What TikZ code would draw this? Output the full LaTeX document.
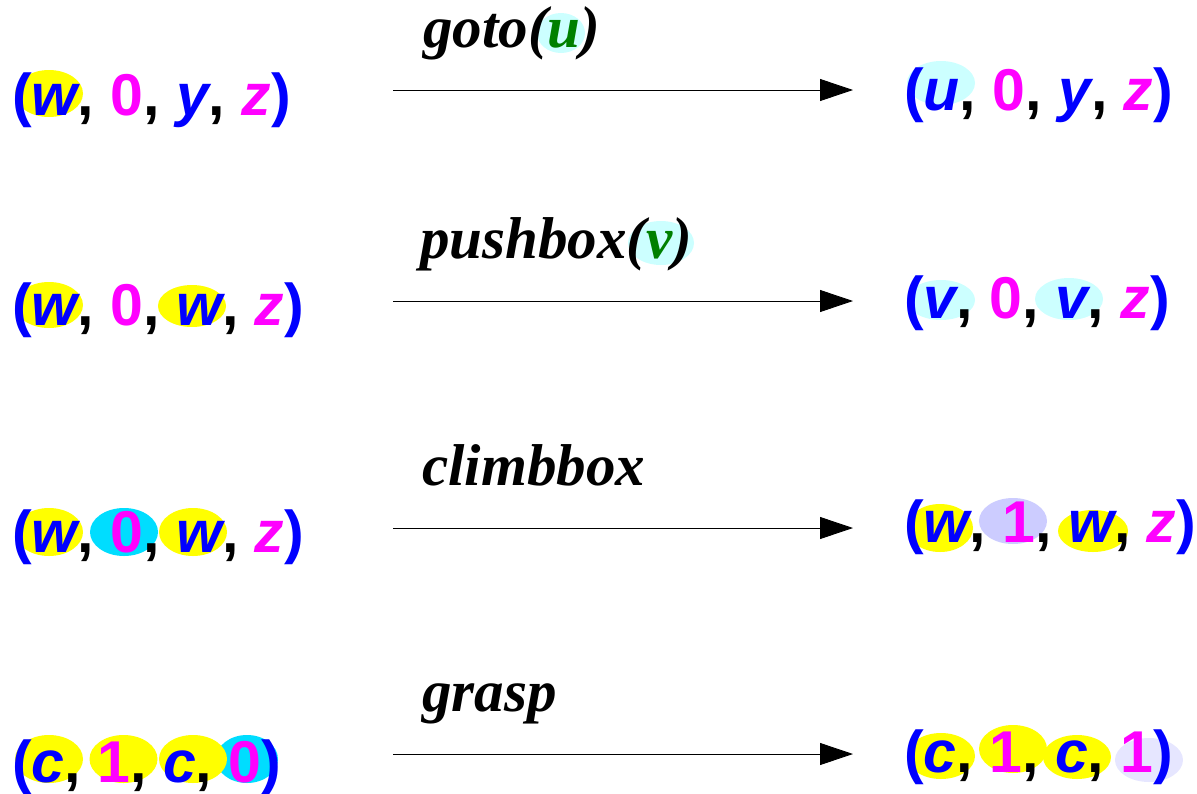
\documentclass[tikz,border=0pt]{standalone}
\usepackage{fontspec}
\setmainfont{Liberation Sans}
\newfontfamily\labfont{Liberation Serif}
\usetikzlibrary{arrows.meta}
\definecolor{tblue}{RGB}{0,0,255}
\definecolor{tmag}{RGB}{255,0,255}
\definecolor{tgreen}{RGB}{0,128,0}
\definecolor{hyellow}{RGB}{255,255,0}
\definecolor{hlcyan}{RGB}{204,255,255}
\definecolor{hcyan}{RGB}{0,221,255}
\definecolor{hlav}{RGB}{204,204,255}
\definecolor{hllav}{RGB}{230,230,255}
\newcommand\tupL{\textcolor{tblue}{(}}
\newcommand\tupR{\textcolor{tblue}{)}}
\newcommand\Vb[1]{\textcolor{tblue}{\itshape #1}}
\newcommand\Vm[1]{\textcolor{tmag}{\itshape #1}}
\newcommand\Dm[1]{\textcolor{tmag}{#1}}
\newcommand\Vg[1]{\textcolor{tgreen}{#1}}
\tikzset{
  tuple/.style={anchor=base west, inner sep=0pt, font=\fontsize{59}{59}\selectfont\bfseries},
  lab/.style={anchor=base west, inner sep=0pt, font=\labfont\fontsize{59}{59}\selectfont\bfseries\itshape},
  act/.style={line width=0.9pt, -{Triangle[length=33pt,width=22pt]}},
  hy/.style={fill=hyellow},
  hlc/.style={fill=hlcyan},
  hc/.style={fill=hcyan},
  hlv/.style={fill=hlav},
  hllv/.style={fill=hllav}
}
\begin{document}
\begin{tikzpicture}[x=1pt,y=-1pt]
\useasboundingbox (0,0) rectangle (1197,793);
% highlights
\fill[hy] (49,93.5) ellipse (34 and 23.5);
\fill[hlc] (941,83) ellipse (34 and 22);
\fill[hlc] (561,33) ellipse (24 and 20);
\fill[hy] (49,305) ellipse (34 and 23);
\fill[hy] (192,306) ellipse (34 and 21);
\fill[hlc] (941,300) ellipse (34 and 20);
\fill[hlc] (1069,299) ellipse (34 and 21);
\fill[hlc] (661,243) ellipse (33 and 22);
\fill[hy] (49,532) ellipse (34 and 24);
\fill[hc] (124,532) ellipse (34 and 24);
\fill[hy] (193,532) ellipse (34 and 24);
\fill[hy] (940,528) ellipse (33 and 24);
\fill[hlv] (1013,521) ellipse (34 and 23);
\fill[hy] (1093,531) ellipse (35 and 21);
\fill[hc] (247,759) ellipse (31 and 24);
\fill[hy] (49,759) ellipse (34 and 24);
\fill[hy] (123.5,759) ellipse (34 and 24);
\fill[hy] (193,759) ellipse (34 and 24);
\fill[hy] (941,756) ellipse (34 and 23);
\fill[hy] (1013,749) ellipse (34 and 24);
\fill[hy] (1077,757) ellipse (34 and 22);
\fill[hllv] (1149,760) ellipse (34 and 22);
% tuples
\node[tuple] (l1) at (12,115) {\tupL\Vb{w}, \Dm{0}, \Vb{y}, \Vm{z}\tupR};
\node[tuple] (r1) at (904,110) {\tupL\Vb{u}, \Dm{0}, \Vb{y}, \Vm{z}\tupR};
\node[tuple] (l2) at (12,325) {\tupL\Vb{w}, \Dm{0}, \Vb{w}, \Vm{z}\tupR};
\node[tuple] (r2) at (904,318) {\tupL\Vb{v}, \Dm{0}, \Vb{v}, \Vm{z}\tupR};
\node[tuple] (l3) at (12,552) {\tupL\Vb{w}, \Dm{0}, \Vb{w}, \Vm{z}\tupR};
\node[tuple] (r3) at (904,542) {\tupL\Vb{w}, \Dm{1}, \Vb{w}, \Vm{z}\tupR};
\node[tuple] (l4) at (12,782) {\tupL\Vb{c}, \Dm{1}, \Vb{c}, \Dm{0}\tupR};
\node[tuple] (r4) at (904,772) {\tupL\Vb{c}, \Dm{1}, \Vb{c}, \Dm{1}\tupR};
% labels
\node[lab] (t1) at (423,47) {goto(\Vg{u})};
\node[lab] (t2) at (420,258) {pushbox(\Vg{v})};
\node[lab] (t3) at (422,485) {climbbox};
\node[lab] (t4) at (422,711) {grasp};
% arrows
\coordinate (s1) at (393,90);  \coordinate (e1) at (853,90);
\coordinate (s2) at (393,301); \coordinate (e2) at (853,301);
\coordinate (s3) at (393,528); \coordinate (e3) at (853,528);
\coordinate (s4) at (393,754); \coordinate (e4) at (853,754);
\draw[act] (s1) -- (e1);
\draw[act] (s2) -- (e2);
\draw[act] (s3) -- (e3);
\draw[act] (s4) -- (e4);
\end{tikzpicture}
\end{document}
